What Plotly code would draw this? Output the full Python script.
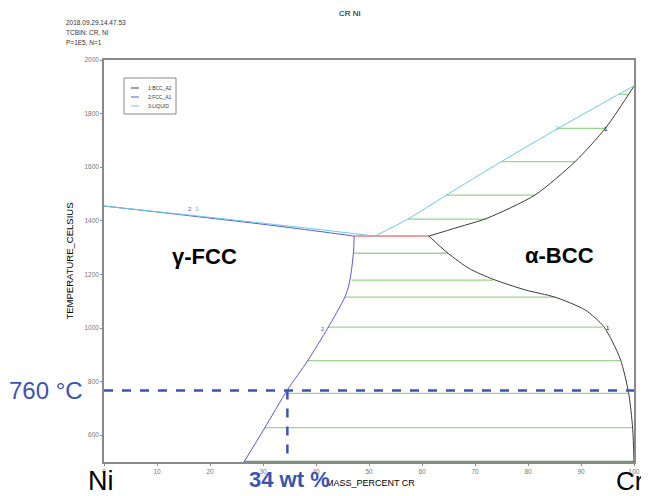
import plotly.graph_objects as go

# ---------------- data ----------------
# Ni-side liquidus (LIQUID) and solidus (FCC_A1)
liq_ni_x = [0, 10, 20, 30, 40, 51.1]
liq_ni_T = [1455, 1434, 1413, 1391, 1369, 1343]
fcc_sol_x = [0, 10, 20, 30, 40, 47.2]
fcc_sol_T = [1455, 1433, 1410, 1387, 1362, 1343]

# FCC solvus (FCC_A1 boundary below eutectic)
fcc_solvus_x = [47.2, 47.1, 46.7, 46.2, 45.4, 42.2, 38.4, 34.6, 30.2, 26.4]
fcc_solvus_T = [1343, 1291, 1216, 1160, 1113, 999, 877, 769, 623, 500]

# BCC solvus (BCC_A2 boundary below eutectic)
bcc_solvus_x = [61.3, 64.9, 68.9, 73.4, 79.5, 85.1, 90.8, 94.3, 97.4, 99.0, 99.75, 100]
bcc_solvus_T = [1343, 1279, 1222, 1182, 1142, 1115, 1067, 1005, 885, 756, 626, 500]

# Cr-side liquidus (LIQUID) and solidus (BCC_A2)
liq_cr_x = [51.1, 57.3, 64.6, 75.0, 85.7, 97.1, 100]
liq_cr_T = [1343, 1406, 1496, 1621, 1745, 1872, 1903]
bcc_sol_x = [61.3, 66.8, 72.2, 81.3, 88.9, 94.6, 99.0, 100]
bcc_sol_T = [1343, 1376, 1409, 1496, 1621, 1745, 1872, 1903]

# Eutectic line
eut_x = [47.2, 61.3]
eut_T = [1343, 1343]

# Tie lines L + BCC
tie_lb_T = [1406, 1496, 1621, 1745, 1872]
tie_lb_xl = [57.3, 64.6, 75.0, 85.7, 97.1]
tie_lb_xr = [72.2, 81.3, 88.9, 94.6, 99.0]

# Tie lines FCC + BCC
tie_fb_T = [1279, 1179, 1115, 1003, 878, 756, 628]
tie_fb_xl = [47.1, 46.7, 45.4, 42.2, 38.4, 34.2, 30.3]
tie_fb_xr = [64.9, 73.4, 85.1, 94.1, 97.4, 98.9, 99.8]

# Bottom tie line at 500 °C
tie_bottom_x = [26.4, 100]
tie_bottom_T = [500, 500]

# Marked composition / temperature
mark_T = 767
mark_x = 34.6

x_ticks = [0, 10, 20, 30, 40, 50, 60, 70, 80, 90, 100]
y_ticks = [600, 800, 1000, 1200, 1400, 1600, 1800, 2000]

legend_names = ["1:BCC_A2", "2:FCC_A1", "3:LIQUID"]

# ---------------- styles ----------------
BCC_C = "#3a3a3a"
FCC_C = "#5a5ad0"
LIQ_C = "#6cc8e4"
TIE_C = "#9ad68c"
EUT_C = "#f27a7a"
MARK_C = "#3a55b0"
legend_colors = [BCC_C, FCC_C, LIQ_C]

fig = go.Figure()

def line(x, y, color, width=1.0, name=None, dash=None, spline=False):
    fig.add_trace(go.Scatter(
        x=x, y=y, mode="lines", name=name, showlegend=False,
        line=dict(color=color, width=width, dash=dash,
                  shape="spline" if spline else "linear", smoothing=0.7),
        hoverinfo="skip"))

# tie lines first
for T, xl, xr in zip(tie_lb_T, tie_lb_xl, tie_lb_xr):
    line([xl, xr], [T, T], TIE_C, 1.3)
for T, xl, xr in zip(tie_fb_T, tie_fb_xl, tie_fb_xr):
    line([xl, xr], [T, T], TIE_C, 1.3)
line(tie_bottom_x, tie_bottom_T, "#4caf4c", 2.5)
line(eut_x, eut_T, EUT_C, 1.5)

# phase boundaries
line(bcc_solvus_x, bcc_solvus_T, BCC_C, 1.0, legend_names[0], spline=True)
line(bcc_sol_x, bcc_sol_T, BCC_C, 1.0, legend_names[0], spline=True)
line(fcc_sol_x, fcc_sol_T, FCC_C, 1.0, legend_names[1], spline=True)
line(fcc_solvus_x, fcc_solvus_T, FCC_C, 1.0, legend_names[1], spline=True)
line(liq_ni_x, liq_ni_T, LIQ_C, 1.0, legend_names[2], spline=True)
line(liq_cr_x, liq_cr_T, LIQ_C, 1.0, legend_names[2], spline=True)

# marker dashed lines
line([0, 100.3], [mark_T, mark_T], MARK_C, 2.5, dash="dash")
line([mark_x, mark_x], [mark_T, 500], MARK_C, 2.5, dash="dash")

# ---------------- layout geometry ----------------
OFF = 8  # page body margin offset
W, H = 649 - OFF, 496 - OFF
# desired plot area in page pixels
PL, PR, PT, PB = 104, 634, 60, 462
L = PL - OFF
T_ = PT - OFF
R = W - (PR - OFF)
B = H - (PB - OFF)
pw, ph = PR - PL, PB - PT

def px(xp):
    return (xp - PL) / pw
def py(yp):
    return (PB - yp) / ph

ann = []
def txt(x, y, s, size, color="black", bold=False, xref="x", yref="y", xanchor="center", yanchor="middle"):
    ann.append(dict(x=x, y=y, xref=xref, yref=yref, text=("<b>%s</b>" % s) if bold else s,
                    showarrow=False, xanchor=xanchor, yanchor=yanchor,
                    font=dict(size=size, color=color, family="Liberation Sans, Arial, sans-serif")))

# small curve labels
txt(16.3, 1443, "2", 6, FCC_C)
txt(17.6, 1443, "3", 6, LIQ_C)
txt(85.4, 1748, "3", 6, LIQ_C)
txt(94.7, 1743, "1", 6, "black")
txt(95.0, 1000, "1", 6, "black")
txt(41.3, 995, "2", 6, FCC_C)

# region labels
txt(19.0, 1265, "γ-FCC", 22, bold=True)
txt(85.9, 1272, "α-BCC", 22, bold=True)

# header texts
txt(px(350), py(14), "CR NI", 8, xref="paper", yref="paper")
txt(px(64), py(22), "2018.09.29.14.47.53", 6.5, "#333", xref="paper", yref="paper", xanchor="left")
txt(px(64), py(32), "TCBIN: CR, NI", 6.5, "#333", xref="paper", yref="paper", xanchor="left")
txt(px(64), py(42), "P=1E5, N=1", 6.5, "#333", xref="paper", yref="paper", xanchor="left")

# legend (drawn manually)
shapes = [dict(type="rect", xref="paper", yref="paper",
               x0=px(124), x1=px(176), y0=py(114), y1=py(78),
               line=dict(color="#888", width=1), fillcolor="white", layer="above")]
for i, (nm, col) in enumerate(zip(legend_names, legend_colors)):
    yy = 88 + 9 * i
    shapes.append(dict(type="line", xref="paper", yref="paper",
                       x0=px(131), x1=px(139), y0=py(yy), y1=py(yy),
                       line=dict(color=col, width=1), layer="above"))
    txt(px(146), py(yy), nm, 5, "#333", xref="paper", yref="paper", xanchor="left")

# outside big labels
txt(px(46), py(390), "760 °C", 24, MARK_C, xref="paper", yref="paper")
txt(px(101), py(481), "Ni", 27, "black", xref="paper", yref="paper")
txt(px(630), py(481), "Cr", 26, "black", xref="paper", yref="paper")
txt(px(370), py(483), "MASS_PERCENT CR", 9, "black", xref="paper", yref="paper")
txt(px(289), py(479), "34 wt %", 22, MARK_C, bold=True, xref="paper", yref="paper")

fig.update_layout(
    width=W, height=H,
    margin=dict(l=L, r=R, t=T_, b=B, autoexpand=False),
    paper_bgcolor="white", plot_bgcolor="white",
    font=dict(family="Liberation Sans, Arial, sans-serif", color="#555"),
    annotations=ann,
    shapes=shapes,
    showlegend=False,
    xaxis=dict(range=[0, 100], tickvals=x_ticks, ticktext=[str(v) for v in x_ticks],
               showgrid=False, zeroline=False, showline=True, mirror=True,
               linecolor="#8a8a8a", linewidth=1.5, ticks="outside", ticklen=2,
               tickcolor="#8a8a8a", tickfont=dict(size=6.5, color="#777")),
    yaxis=dict(range=[500, 2000], tickvals=y_ticks, ticktext=[str(v) for v in y_ticks],
               showgrid=False, zeroline=False, showline=True, mirror=True,
               linecolor="#8a8a8a", linewidth=1.5, ticks="outside", ticklen=2,
               tickcolor="#8a8a8a", tickfont=dict(size=6.5, color="#777"),
               title=dict(text="TEMPERATURE_CELSIUS", font=dict(size=9.5, color="black"), standoff=9)),
)

fig.write_html("out.html")
